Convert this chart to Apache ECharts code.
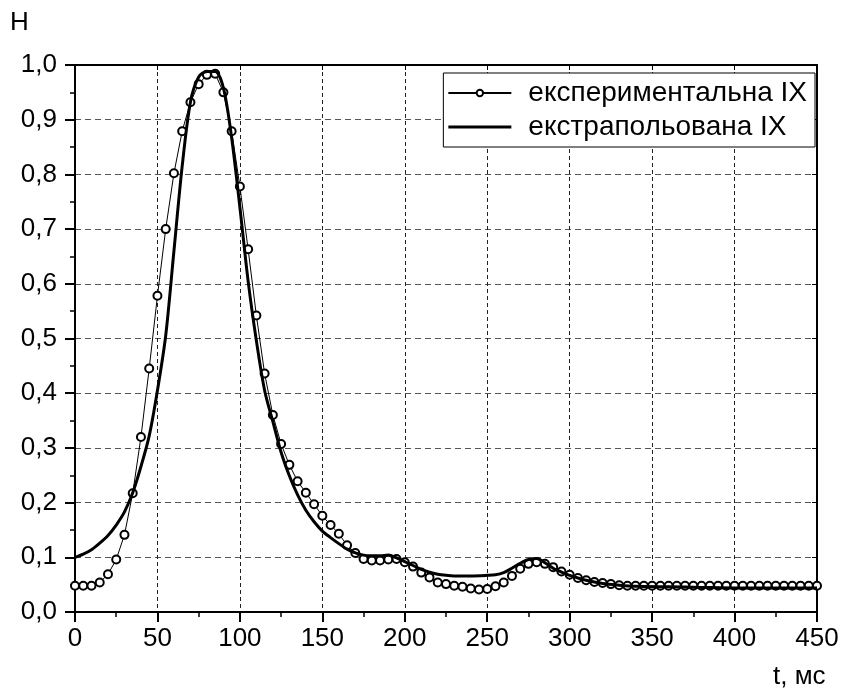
<!DOCTYPE html>
<html>
<head>
<meta charset="utf-8">
<script src="https://cdn.jsdelivr.net/npm/echarts@6/dist/echarts.min.js"></script>
<style>
  html, body { margin: 0; padding: 0; background: #fff; }
  #chart { width: 845px; height: 700px; }
</style>
</head>
<body>
<div id="chart"></div>
<script>
// експериментальна IX, крок 5 мс
const expTimes = [];
for (let t = 0; t <= 450; t += 5) expTimes.push(t);
const expValues = [
  0.048, 0.048, 0.048, 0.054, 0.069, 0.096, 0.141, 0.217, 0.320, 0.445,
  0.578, 0.700, 0.802, 0.879, 0.932, 0.965, 0.982, 0.984, 0.950, 0.879,
  0.778, 0.663, 0.542, 0.436, 0.360, 0.307, 0.269, 0.239, 0.218, 0.197,
  0.176, 0.159, 0.143, 0.122, 0.108, 0.097, 0.094, 0.094, 0.096, 0.097,
  0.091, 0.083, 0.072, 0.063, 0.054, 0.051, 0.048, 0.046, 0.043, 0.041,
  0.042, 0.047, 0.054, 0.066, 0.079, 0.088, 0.091, 0.088, 0.082, 0.074,
  0.068, 0.062, 0.058, 0.055, 0.053, 0.051, 0.049, 0.048, 0.048, 0.048,
  0.048, 0.048, 0.048, 0.048, 0.048, 0.048, 0.048, 0.048, 0.048, 0.048,
  0.048, 0.048, 0.048, 0.048, 0.048, 0.048, 0.048, 0.048, 0.048, 0.048,
  0.048
];

// екстрапольована IX
const fitTimes = [
  0, 5, 10, 15, 20, 25, 30, 35, 40, 45,
  50, 55, 60, 65, 70, 75, 80, 85, 90, 95,
  100, 105, 110, 115, 120, 125, 130, 135, 140, 145,
  150, 155, 160, 165, 170, 175, 180, 185, 190, 195,
  200, 205, 210, 215, 220, 225, 230, 240, 250, 255,
  260, 265, 270, 275, 280, 285, 290, 295, 300, 310,
  320, 330, 340, 360, 380, 400, 450
];
const fitValues = [
  0.100, 0.106, 0.114, 0.126, 0.140, 0.159, 0.183, 0.218, 0.266, 0.322,
  0.405, 0.505, 0.660, 0.815, 0.932, 0.978, 0.988, 0.988, 0.958, 0.867,
  0.740, 0.605, 0.496, 0.405, 0.348, 0.292, 0.249, 0.214, 0.186, 0.165,
  0.148, 0.136, 0.125, 0.115, 0.108, 0.104, 0.103, 0.103, 0.104, 0.099,
  0.092, 0.085, 0.078, 0.073, 0.069, 0.067, 0.066, 0.066, 0.067, 0.068,
  0.072, 0.080, 0.089, 0.096, 0.098, 0.090, 0.080, 0.073, 0.067, 0.058,
  0.052, 0.049, 0.047, 0.046, 0.045, 0.044, 0.044
];

const xTicks = [0, 50, 100, 150, 200, 250, 300, 350, 400, 450];
const yTicks = [0, 0.1, 0.2, 0.3, 0.4, 0.5, 0.6, 0.7, 0.8, 0.9, 1.0];

const font = 'Liberation Sans, Arial, sans-serif';
const chart = echarts.init(document.getElementById('chart'));

const expData = expTimes.map((t, i) => [t, expValues[i]]);
const fitData = fitTimes.map((t, i) => [t, fitValues[i]]);

function commaFmt(v) {
  return v.toFixed(1).replace('.', ',');
}

chart.setOption({
  animation: false,
  backgroundColor: '#fff',
  grid: { left: 75, right: 28, top: 65, bottom: 88 },
  xAxis: [{
    type: 'value', min: 0, max: 450, interval: 50,
    axisLine: { show: true, onZero: false, lineStyle: { color: '#000', width: 2 } },
    axisTick: { show: true, inside: false, length: 10, lineStyle: { color: '#000', width: 2 } },
    minorTick: { show: true, splitNumber: 2, length: 5, lineStyle: { color: '#000', width: 1.5 } },
    axisLabel: { color: '#000', fontSize: 26, fontFamily: font, margin: 14 },
    splitLine: { show: true, lineStyle: { color: '#222', type: [4, 3], width: 1 } }
  }, {
    type: 'value', position: 'top', min: 0, max: 450, interval: 50,
    axisLine: { show: true, onZero: false, lineStyle: { color: '#000', width: 2 } },
    axisTick: { show: true, inside: true, length: 5, lineStyle: { color: '#000', width: 1 } },
    axisLabel: { show: false },
    splitLine: { show: false }
  }],
  yAxis: [{
    type: 'value', min: 0, max: 1, interval: 0.1,
    axisLine: { show: true, onZero: false, lineStyle: { color: '#000', width: 2 } },
    axisTick: { show: true, inside: false, length: 10, lineStyle: { color: '#000', width: 2 } },
    minorTick: { show: true, splitNumber: 2, length: 5, lineStyle: { color: '#000', width: 1.5 } },
    axisLabel: { color: '#000', fontSize: 26, fontFamily: font, margin: 18, formatter: commaFmt },
    splitLine: { show: true, lineStyle: { color: '#555', type: [6, 4], width: 1 } }
  }, {
    type: 'value', position: 'right', min: 0, max: 1, interval: 0.1,
    axisLine: { show: true, onZero: false, lineStyle: { color: '#000', width: 2 } },
    axisTick: { show: true, inside: true, length: 5, lineStyle: { color: '#000', width: 1 } },
    axisLabel: { show: false },
    splitLine: { show: false }
  }],
  legend: {
    orient: 'vertical',
    right: 30, top: 73,
    backgroundColor: '#fff',
    borderColor: '#000', borderWidth: 1,
    padding: [6, 8, 6, 4],
    itemWidth: 63, itemHeight: 8, itemGap: 6,
    align: 'left',
    textStyle: { color: '#000', fontSize: 28, fontFamily: font, padding: [0, 0, 0, 12] },
    data: [
      { name: 'експериментальна IX' },
      { name: 'екстрапольована IX', icon: 'path://M0,0H63V3H0Z' }
    ]
  },
  graphic: [
    { type: 'text', left: 10, top: 10, style: { text: 'Н', fontSize: 26, fontFamily: font, fill: '#000' } },
    { type: 'text', left: 773, top: 664, style: { text: 't, мс', fontSize: 26, fontFamily: font, fill: '#000' } }
  ],
  series: [{
    name: 'експериментальна IX',
    type: 'line',
    data: expData,
    symbol: 'emptyCircle', symbolSize: 8,
    lineStyle: { color: '#000', width: 1 },
    itemStyle: { color: '#000', borderColor: '#000', borderWidth: 1 },
    z: 2
  }, {
    name: 'екстрапольована IX',
    type: 'line',
    data: fitData,
    smooth: 0.3,
    symbol: 'none',
    lineStyle: { color: '#000', width: 3 },
    itemStyle: { color: '#000' },
    z: 3
  }]
});
</script>
</body>
</html>
